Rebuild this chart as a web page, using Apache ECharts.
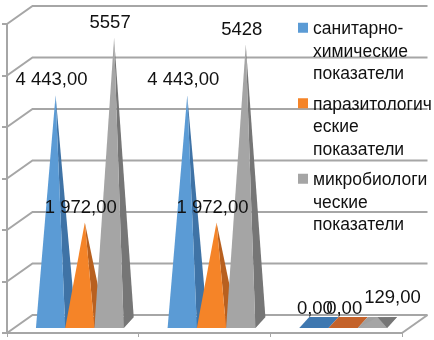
<!DOCTYPE html>
<html><head><meta charset="utf-8">
<style>html,body{margin:0;padding:0;background:#fff}#c{width:434px;height:340px}</style>
<script src="https://cdn.jsdelivr.net/npm/echarts@6/dist/echarts.min.js"></script>
</head><body><div id="c"></div>
<script>
const categories = ['1', '2', '3'];
const seriesNames = ['санитарно-химические показатели', 'паразитологические показатели', 'микробиологические показатели'];
const legendLines = ['санитарно-\nхимические\nпоказатели', 'паразитологич\nеские\nпоказатели', 'микробиологи\nческие\nпоказатели'];
const sanitary = [4443, 4443, 0];
const parasite = [1972, 1972, 0];
const micro = [5557, 5428, 129];
const sanitaryLabels = ['4 443,00', '4 443,00', '0,00'];
const parasiteLabels = ['1 972,00', '1 972,00', '0,00'];
const microLabels = ['5557', '5428', '129,00'];
const valueTicks = [0, 1000, 2000, 3000, 4000, 5000, 6000];

const FONT = '"Liberation Sans", sans-serif';
const GRID = '#a6a6a6';
const front = ['#5b9bd5', '#f58428', '#a5a5a5'];
const side = ['#3f73a6', '#b8601f', '#767676'];
const floorC = ['#3f78b0', '#c4622a', '#a0a0a0'];
const allValues = [sanitary, parasite, micro];
const allLabels = [sanitaryLabels, parasiteLabels, microLabels];
const F = [7, -5], B = [17, -16], A = [12, -9];   // oblique depth offsets

function barItem(s) {
  return function (params, api) {
    const i = api.value(0), v = api.value(1);
    const top = api.coord([i, v]), base = api.coord([i, 0]);
    const band = api.size([1, 0])[0], w = band / 4.5;
    const xl = base[0] + (s - 1.5) * w, xr = xl + w, y = base[1];
    const fl = [xl + F[0], y + F[1]], fr = [xr + F[0], y + F[1]];
    const bl = [xl + B[0], y + B[1]], br = [xr + B[0], y + B[1]];
    const ap = [(xl + xr) / 2 + A[0], top[1] + A[1]];
    const small = s === 2 && i === 2;
    const children = [
      { type: 'polygon', shape: { points: [fl, fr, br, bl] }, style: { fill: floorC[s] } }
    ];
    if (v > 0) {
      children.push({ type: 'polygon', shape: { points: [fr, br, ap] }, style: { fill: side[s] } });
      children.push({ type: 'polygon', shape: { points: [fl, fr, ap] }, style: { fill: front[s] } });
    }
    children.push({
      type: 'text', z2: 200,
      style: {
        x: ap[0] - 4 + (small ? 19 : 0), y: ap[1] + (v === 0 ? -15 : small ? -19 : -15),
        text: allLabels[s][i], fill: '#111', font: '18.5px ' + FONT,
        align: 'center', verticalAlign: 'middle'
      }
    });
    return { type: 'group', children };
  };
}

function frameItem(params, api) {
  const v = api.value(0), cs = params.coordSys;
  const y = api.coord([0, v])[1], x0 = cs.x, x1 = cs.x + cs.width;
  const d = [25.5, -18];
  const shape = { points: [[x0, y], [x0 + d[0], y + d[1]], [x1 + d[0], y + d[1]]] };
  const kids = [{ type: 'polyline', shape, style: { stroke: GRID, lineWidth: 2, fill: null } }];
  if (v === 0) kids.push({ type: 'line', shape: { x1: x1, y1: y, x2: x1 + d[0], y2: y + d[1] }, style: { stroke: GRID, lineWidth: 2 } });
  return { type: 'group', children: kids };
}

const series = [{
  type: 'custom', name: 'frame', silent: true, z: 1, clip: false,
  coordinateSystem: 'cartesian2d', renderItem: frameItem,
  encode: { y: 0 }, data: valueTicks.map(v => [v])
}];
seriesNames.forEach((n, s) => series.push({
  type: 'custom', name: n, z: 2, clip: false,
  coordinateSystem: 'cartesian2d', renderItem: barItem(s),
  itemStyle: { color: front[s] },
  encode: { x: 0, y: 1 },
  data: categories.map((c, i) => [i, allValues[s][i]])
}));

const chart = echarts.init(document.getElementById('c'), null, { renderer: 'canvas' });
chart.setOption({
  animation: false,
  backgroundColor: '#fff',
  grid: { left: 7, right: 32, top: 24, bottom: 7, containLabel: false },
  xAxis: {
    type: 'category', data: categories,
    axisLine: { lineStyle: { color: GRID, width: 2 } },
    axisTick: { show: true, length: 4, inside: false, alignWithLabel: false, lineStyle: { color: GRID, width: 1 } },
    axisLabel: { show: false }
  },
  yAxis: {
    type: 'value', min: 0, max: 6000, interval: 1000,
    axisLine: { show: true, lineStyle: { color: GRID, width: 2 } },
    axisTick: { show: true, length: 5, lineStyle: { color: GRID, width: 2 } },
    axisLabel: { show: false }, splitLine: { show: false }
  },
  legend: {
    show: true, orient: 'vertical', left: 298, top: 18, padding: 0,
    data: seriesNames, itemWidth: 10, itemHeight: 66, itemGap: 8,
    icon: 'path://M0 0L0 0Z M0 4H10V14H0Z M0 66L0 66Z',
    formatter: n => legendLines[seriesNames.indexOf(n)],
    selectedMode: false,
    textStyle: { fontFamily: FONT, fontSize: 17.5, color: '#111', lineHeight: 22.5, padding: [0, 0, 0, 0] }
  },
  series
});
</script></body></html>
